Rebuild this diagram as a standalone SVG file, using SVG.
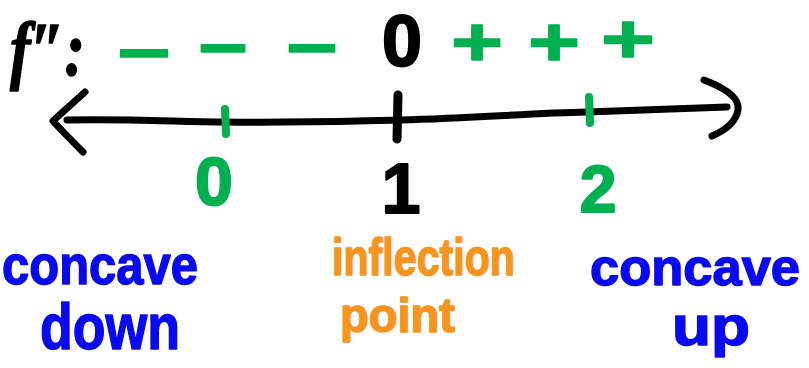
<svg xmlns="http://www.w3.org/2000/svg" width="809" height="368" viewBox="0 0 809 368">
<style>
.ink{fill:none;stroke-linecap:round;stroke-linejoin:round}
.t{font-family:"Liberation Sans",Arial,sans-serif;font-weight:700;stroke-linejoin:round}
.blk{fill:#000;stroke:#000}
.grn{fill:#00b050;stroke:#00b050}
.blu{fill:#0a0af0;stroke:#0a0af0}
.org{fill:#f7941d;stroke:#f7941d}
.sign{font-size:68px;text-anchor:middle;stroke-width:1.5}
.dig{text-anchor:middle;stroke-width:2}
.word{stroke-width:1.5}
</style>
<rect width="809" height="368" fill="#fff"/>
<g id="axis">
<path class="ink" stroke="#000" stroke-width="7" d="M67,120 C140,119 180,122 225,122 C300,123 350,121 400,120 C480,118 530,113 587,112 C640,110 690,108 727,107"/>
<path class="ink" stroke="#000" stroke-width="7" d="M85,92 C72,104 60,114 53,121 C62,131 73,142 83,152"/>
<path class="ink" stroke="#000" stroke-width="7" d="M704,80 C725,88 740,98 738,110 C736,122 726,130 712,136"/>
</g>
<g id="ticks">
<path class="ink" stroke="#00b050" stroke-width="8" d="M225,109 L226,134"/>
<path class="ink" stroke="#000" stroke-width="9" d="M398,95 L397,139"/>
<path class="ink" stroke="#00b050" stroke-width="8" d="M589,97 L590,123"/>
</g>
<g id="sign-chart">
<text class="t blk" x="10" y="75" font-size="76" textLength="75" lengthAdjust="spacingAndGlyphs" style="font-family:'Liberation Serif',serif;font-style:italic;stroke-width:1.5">f″:</text>
<text class="t grn sign" x="144" y="76" textLength="54" lengthAdjust="spacingAndGlyphs">−</text>
<text class="t grn sign" x="223" y="71" textLength="50" lengthAdjust="spacingAndGlyphs">−</text>
<text class="t grn sign" x="312" y="71" textLength="52" lengthAdjust="spacingAndGlyphs">−</text>
<text class="t blk dig" x="402" y="66" font-size="72">0</text>
<text class="t grn sign" x="477" y="65" textLength="52" lengthAdjust="spacingAndGlyphs">+</text>
<text class="t grn sign" x="554" y="65" textLength="52" lengthAdjust="spacingAndGlyphs">+</text>
<text class="t grn sign" x="628" y="62" textLength="54" lengthAdjust="spacingAndGlyphs">+</text>
</g>
<g id="labels">
<text class="t grn dig" x="214" y="205" font-size="68">0</text>
<text class="t blk dig" x="401" y="213" font-size="70">1</text>
<text class="t grn dig" x="598" y="212" font-size="66">2</text>
</g>
<g id="concave-down">
<text class="t blu word" x="2" y="284" font-size="56" textLength="196" lengthAdjust="spacingAndGlyphs">concave</text>
<text class="t blu word" x="40" y="349" font-size="64" textLength="140" lengthAdjust="spacingAndGlyphs">down</text>
</g>
<g id="inflection-point">
<text class="t org word" x="332" y="275" font-size="52" textLength="183" lengthAdjust="spacingAndGlyphs">inflection</text>
<text class="t org word" x="340" y="332" font-size="48" textLength="115" lengthAdjust="spacingAndGlyphs">point</text>
</g>
<g id="concave-up">
<text class="t blu word" x="590" y="285" font-size="52" textLength="210" lengthAdjust="spacingAndGlyphs">concave</text>
<text class="t blu word" x="672" y="345" font-size="56" textLength="78" lengthAdjust="spacingAndGlyphs">up</text>
</g>
</svg>
